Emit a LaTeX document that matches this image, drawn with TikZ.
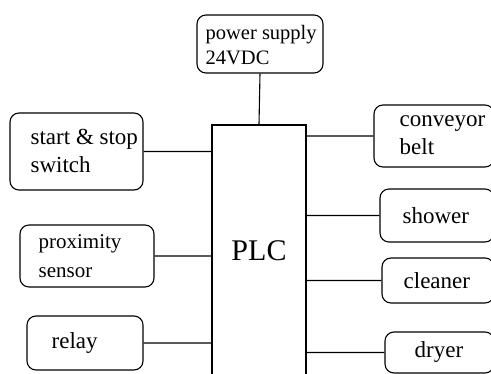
\documentclass[tikz,border=0pt]{standalone}
\usepackage{fontspec}
\setmainfont{Liberation Serif}
\usetikzlibrary{positioning}

\tikzset{
  blk/.style={draw, rounded corners=9pt, line width=1.1pt, inner sep=0pt},
  txt/.style={anchor=west, align=left, inner sep=0pt, font=\fontsize{23}{28}\selectfont},
  wire/.style={line width=1.1pt}
}

\begin{document}
\begin{tikzpicture}[x=1pt,y=-1pt]
 \useasboundingbox (0,0) rectangle (491,374);
 \clip (0,0) rectangle (491,374);
%    supply and controller
 \node[blk, minimum width=126pt, minimum height=58pt] (supply) at (260,44) {};
 \node[txt, font=\fontsize{20.5}{25}\selectfont] (supply-t) at ([xshift=9pt,yshift=-1pt]supply.west) {power supply\\24VDC};
 \node[draw, line width=1.1pt, minimum width=94pt, minimum height=252pt,
       font=\fontsize{30}{32}\selectfont] (plc) at (259,251) {PLC};
%    inputs
 \node[blk, minimum width=133pt, minimum height=77pt] (switch) at (76.5,151.5) {};
 \node[txt] (switch-t) at ([xshift=21pt,yshift=1pt]switch.west) {start \& stop\\switch};
 \node[blk, minimum width=134pt, minimum height=62pt] (sensor) at (87,256) {};
 \node[txt, font=\fontsize{21}{29}\selectfont] (sensor-t) at ([xshift=19pt]sensor.west) {proximity\\sensor};
 \node[blk, minimum width=116pt, minimum height=54pt] (relay) at (85,343) {};
 \node[txt] (relay-t) at ([xshift=25pt]relay.west) {relay};
%    outputs
 \node[blk, minimum width=120pt, minimum height=62pt] (belt) at (434,136) {};
 \node[txt] (belt-t) at ([xshift=26pt,yshift=1pt]belt.west) {conveyor\\belt};
 \node[blk, minimum width=114pt, minimum height=53pt] (shower) at (437,215.5) {};
 \node[txt] (shower-t) at ([xshift=23pt]shower.west) {shower};
 \node[blk, minimum width=112pt, minimum height=45pt] (cleaner) at (438,280.5) {};
 \node[txt] (cleaner-t) at ([xshift=22pt]cleaner.west) {cleaner};
 \node[blk, minimum width=109pt, minimum height=41pt] (dryer) at (439.5,352.5) {};
 \node[txt] (dryer-t) at ([xshift=30pt]dryer.west) {dryer};

 \draw[wire]
		(supply.south) -- (plc.north)
	%	left side
		(switch.east) -- (switch.east -| plc.west)
		(sensor.east) -- (sensor.east -| plc.west)
		(relay.east) -- (relay.east -| plc.west)
	%	right side
		(belt.west) -- (belt.west -| plc.east)
		(shower.west) -- (shower.west -| plc.east)
		(cleaner.west) -- (cleaner.west -| plc.east)
		(dryer.west) -- (dryer.west -| plc.east)
		;
\end{tikzpicture}
\end{document}
